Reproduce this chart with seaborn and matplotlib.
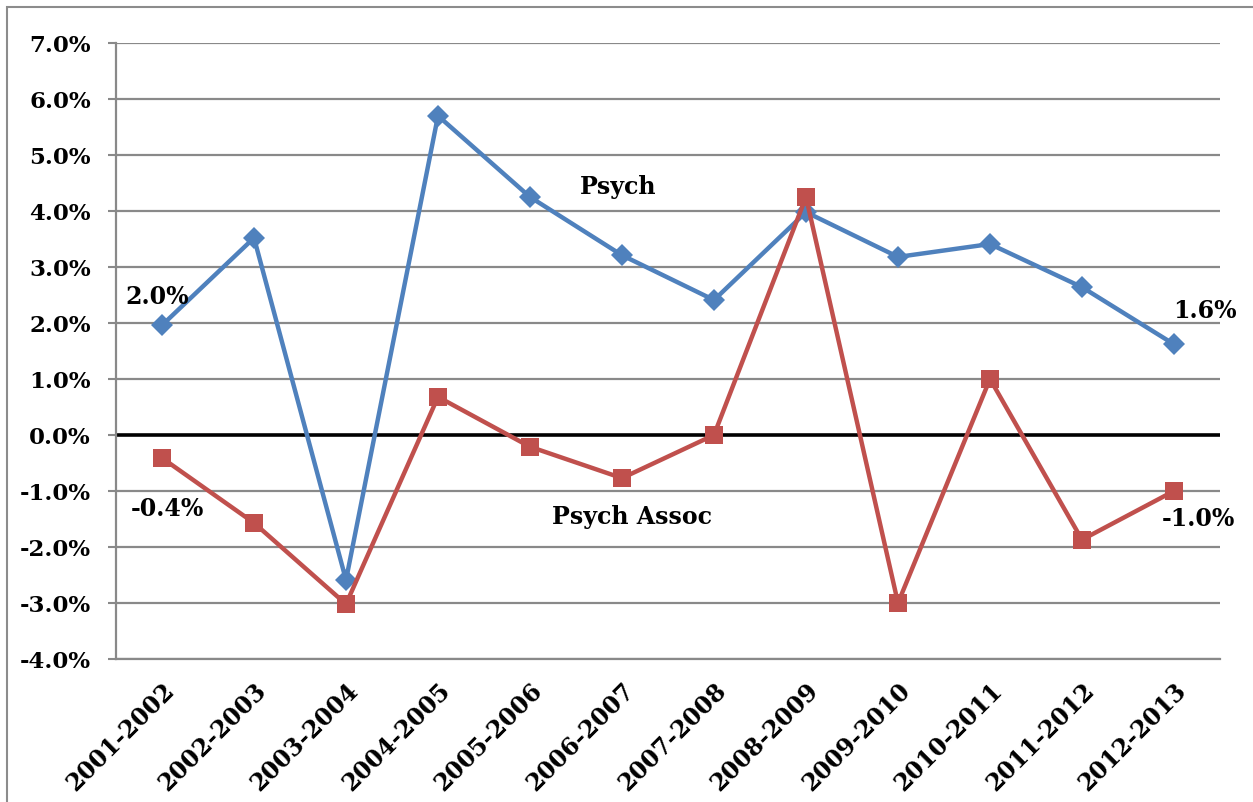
import matplotlib
matplotlib.use("Agg")
import matplotlib.pyplot as plt
import seaborn as sns
import pandas as pd
from matplotlib.ticker import FuncFormatter, MultipleLocator
from matplotlib.patches import Rectangle

years = ["2001-2002", "2002-2003", "2003-2004", "2004-2005", "2005-2006", "2006-2007",
         "2007-2008", "2008-2009", "2009-2010", "2010-2011", "2011-2012", "2012-2013"]
psych = [1.96, 3.52, -2.59, 5.70, 4.25, 3.21, 2.41, 3.98, 3.18, 3.41, 2.64, 1.62]
psych_assoc = [-0.41, -1.57, -3.02, 0.68, -0.21, -0.77, 0.00, 4.25, -3.00, 1.00, -1.87, -1.00]

df = pd.DataFrame({
    "year": years * 2,
    "value": psych + psych_assoc,
    "series": ["Psych"] * len(years) + ["Psych Assoc"] * len(years),
})
df["x"] = list(range(len(years))) * 2

sns.set_theme(style="white")
plt.rcParams["font.family"] = ["DejaVu Serif"]
plt.rcParams["font.weight"] = "bold"
plt.rcParams["text.color"] = "black"
plt.rcParams["xtick.color"] = "black"
plt.rcParams["ytick.color"] = "black"

fig = plt.figure(figsize=(12.53, 8.02), dpi=100)
ax = fig.add_axes([116/1253, 1-659/802, (1220-116)/1253, (659-43)/802])

grid_c = "#898989"
ax.set_ylim(-4, 7)
ax.set_xlim(-0.5, len(years) - 0.5)
ax.yaxis.set_major_locator(MultipleLocator(1))
for v in range(-4, 8):
    if v != 0:
        ax.axhline(v, color=grid_c, lw=1.6, zorder=0)
ax.axhline(0, color="black", lw=2.6, zorder=1)

sns.lineplot(data=df, x="x", y="value", hue="series", style="series",
             palette={"Psych": "#4F81BD", "Psych Assoc": "#C0504D"},
             markers={"Psych": "D", "Psych Assoc": "s"}, dashes=False,
             markersize=11, markeredgewidth=0, linewidth=3.2, legend=False, ax=ax, zorder=3)
for line in ax.get_lines():
    if line.get_marker() == "s":
        line.set_markersize(13.5)

ax.set_xticks(range(len(years)))
ax.set_xticklabels(years, rotation=45, ha="right", rotation_mode="anchor",
                   fontsize=17, fontweight="bold", color="black")
ax.yaxis.set_major_formatter(FuncFormatter(lambda v, p: f"{v:.1f}%"))
ax.tick_params(axis="y", which="major", length=6, width=1.5, color=grid_c, left=True, pad=12,
               labelsize=16.5, labelcolor="black")
ax.tick_params(axis="x", length=0, pad=14, labelcolor="black")
for lab in ax.get_yticklabels():
    lab.set_fontweight("bold")
ax.set_xlabel("")
ax.set_ylabel("")

for s in ["top", "right"]:
    ax.spines[s].set_visible(False)
ax.spines["left"].set_color(grid_c)
ax.spines["left"].set_linewidth(1.6)
ax.spines["bottom"].set_color(grid_c)
ax.spines["bottom"].set_linewidth(1.6)

tk = dict(fontsize=17, fontweight="bold", color="black", ha="center", va="center")
ax.text(4.96, 4.43, "Psych", **tk)
ax.text(5.11, -1.46, "Psych Assoc", **tk)
ax.text(-0.05, 2.47, "2.0%", **tk)
ax.text(0.06, -1.32, "-0.4%", **tk)
ax.text(11.34, 2.22, "1.6%", **tk)
ax.text(11.27, -1.50, "-1.0%", **tk)

fig.patches.append(Rectangle((7/1253, -0.05), 1.2, 1 - 7/802 + 0.05, transform=fig.transFigure,
                             fill=False, edgecolor="#8c8c8c", lw=1.5))

fig.savefig("out.png", dpi=100)
